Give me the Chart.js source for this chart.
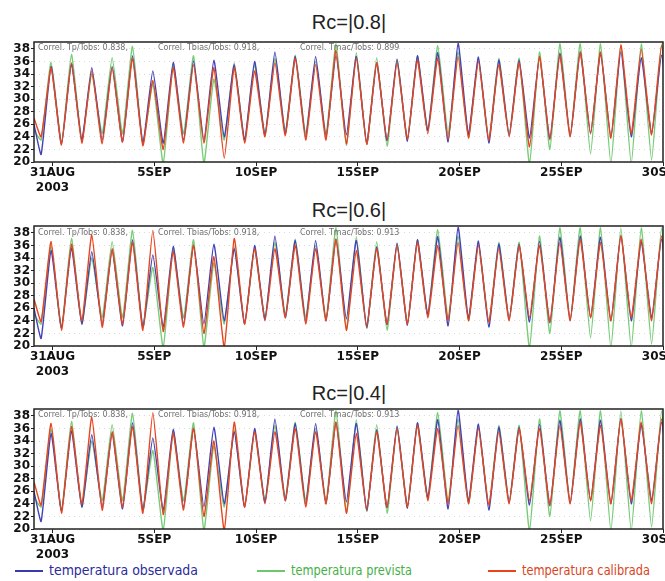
<!DOCTYPE html>
<html>
<head>
<meta charset="utf-8">
<script src="https://cdn.jsdelivr.net/npm/chart.js@4.4.0/dist/chart.umd.min.js"></script>
<style>
  body { margin: 0; width: 665px; height: 581px; overflow: hidden; background: #fff; position: relative; font-family: 'Liberation Sans', Arial, sans-serif; }
  canvas { position: absolute; left: 0; }
  .title { position: absolute; left: 249px; width: 200px; text-align: center; font-size: 20px; line-height: 24px; color: #222; }
  .correl { position: absolute; font-family: 'DejaVu Sans', sans-serif; font-size: 8px; line-height: 10px; color: #707070; white-space: pre; }
  .leg { position: absolute; top: 561px; font-family: 'DejaVu Sans', sans-serif; font-size: 14px; line-height: 18px; white-space: nowrap; }
  .leg i { display: inline-block; width: 28px; height: 1.6px; vertical-align: middle; margin-right: 6px; }
  .leg span { display: inline-block; transform-origin: 0 50%; }
</style>
</head>
<body>
<div class="title" style="top:10px">Rc=|0.8|</div>
<div class="title" style="top:198px">Rc=|0.6|</div>
<div class="title" style="top:381px">Rc=|0.4|</div>

<canvas id="c1" width="700" height="158" style="top:34px"></canvas>
<canvas id="c2" width="700" height="158" style="top:218px"></canvas>
<canvas id="c3" width="700" height="158" style="top:401px"></canvas>

<div class="correl" style="top:43px;left:38px">Correl. Tp/Tobs: 0.838,</div>
<div class="correl" style="top:43px;left:158px">Correl. Tbias/Tobs: 0.918,</div>
<div class="correl" style="top:43px;left:300px">Correl. Tmac/Tobs: 0.899</div>
<div class="correl" style="top:228px;left:38px">Correl. Tp/Tobs: 0.838,</div>
<div class="correl" style="top:228px;left:158px">Correl. Tbias/Tobs: 0.918,</div>
<div class="correl" style="top:228px;left:300px">Correl. Tmac/Tobs: 0.913</div>
<div class="correl" style="top:410px;left:38px">Correl. Tp/Tobs: 0.838,</div>
<div class="correl" style="top:410px;left:158px">Correl. Tbias/Tobs: 0.918,</div>
<div class="correl" style="top:410px;left:300px">Correl. Tmac/Tobs: 0.913</div>

<div class="leg" style="left:15px;color:#2b2b9c"><i style="background:#3a3ab0"></i><span data-w="149">temperatura observada</span></div>
<div class="leg" style="left:257px;color:#45b045"><i style="background:#6cc86c"></i><span data-w="121">temperatura prevista</span></div>
<div class="leg" style="left:488px;color:#d8441c"><i style="background:#e8451e"></i><span data-w="128">temperatura calibrada</span></div>

<script>
// days counted from 31AUG 00Z; first day in the arrays is 30AUG
const firstDay = -1;
const xStart = -0.91;
const xEnd = 30;
const minTime = 0.44;   // daily minimum ~10Z
const maxTime = 0.93;   // daily maximum ~22Z

const xTickDays = [0, 5, 10, 15, 20, 25, 30];
const xTickLabels = [['31AUG', '2003'], '5SEP', '10SEP', '15SEP', '20SEP', '25SEP', '30SEP'];
const yTicks = [20, 22, 24, 26, 28, 30, 32, 34, 36, 38];

// temperatura observada (same in all panels)
const obsLead = 26;
const obsMin = [21.2, 22.8, 23.5, 23.5, 23.2, 23.0, 23.0, 23.5, 23.5, 24.0, 23.5, 24.2, 24.5, 24.0, 24.0, 24.3,
                23.0, 23.4, 23.3, 25.0, 23.2, 24.4, 23.0, 24.2, 23.8, 23.7, 24.1, 24.5, 24.0, 24.0, 24.5, 24.5];
const obsMax = [35.2, 35.6, 35.0, 35.2, 36.9, 34.5, 35.9, 36.1, 36.2, 35.5, 36.0, 37.5, 36.8, 36.8, 37.0, 36.8,
                35.8, 36.4, 36.9, 37.4, 38.9, 36.7, 36.2, 36.2, 36.7, 37.3, 37.5, 37.3, 37.6, 36.6, 37.0, 36.5];

// temperatura prevista (same in all panels)
const prevLead = 25;
const prevMin = [23.5, 23.0, 23.5, 24.5, 24.5, 23.0, 19.8, 24.5, 19.8, 23.5, 23.5, 24.5, 25.0, 24.5, 24.5, 22.7,
                 22.8, 22.5, 23.7, 25.0, 24.5, 24.0, 23.8, 24.5, 19.7, 22.0, 24.2, 21.3, 19.7, 19.7, 20.3, 20.5];
const prevMax = [35.9, 37.1, 34.0, 36.6, 38.4, 32.5, 35.5, 36.9, 33.2, 35.8, 35.5, 36.5, 37.0, 36.0, 38.8, 37.4,
                 36.6, 36.2, 36.8, 38.5, 37.5, 36.5, 36.5, 36.5, 37.5, 38.8, 38.8, 38.8, 38.8, 38.8, 38.8, 38.5];

// temperatura calibrada, one per panel
const cal1Lead = 27;
const cal1Min = [24.0, 22.7, 23.0, 22.9, 23.2, 22.6, 22.0, 23.0, 23.0, 20.6, 23.0, 24.0, 24.2, 23.5, 23.5, 22.9,
                 22.8, 23.5, 23.6, 24.5, 23.5, 23.8, 23.5, 24.0, 22.4, 23.5, 24.0, 24.5, 23.8, 24.5, 24.3, 24.5];
const cal1Max = [35.0, 35.8, 34.5, 35.0, 36.5, 33.0, 35.0, 35.5, 35.0, 35.0, 34.5, 35.8, 36.5, 35.5, 37.8, 36.6,
                 35.8, 35.8, 36.2, 36.5, 36.8, 36.0, 35.5, 35.8, 36.8, 37.0, 37.5, 37.5, 38.6, 38.0, 38.5, 38.0];

const cal2Lead = 27.5;
const cal2Min = [23.9, 22.5, 24.0, 23.0, 23.5, 22.5, 22.3, 23.0, 22.0, 19.8, 23.5, 24.0, 24.5, 23.5, 24.0, 22.5,
                 23.0, 23.5, 23.5, 24.5, 24.0, 24.0, 23.8, 24.0, 24.5, 23.8, 24.0, 24.5, 24.0, 24.5, 24.0, 24.0];
const cal2Max = [36.6, 36.2, 37.7, 35.5, 36.5, 38.4, 35.0, 36.0, 34.2, 37.1, 35.5, 35.5, 36.0, 35.5, 37.0, 35.2,
                 35.5, 36.0, 36.5, 36.0, 36.5, 36.0, 35.5, 36.0, 36.0, 36.5, 37.0, 36.5, 37.5, 37.0, 37.5, 37.0];

const cal3Lead = 27.5;
const cal3Min = [23.8, 22.5, 24.0, 23.0, 23.5, 22.5, 22.3, 23.0, 22.0, 19.8, 23.5, 24.0, 24.5, 23.5, 24.0, 22.5,
                 23.0, 23.5, 23.5, 24.5, 24.0, 24.0, 23.8, 24.0, 24.5, 23.8, 24.0, 24.5, 24.0, 24.5, 24.0, 24.0];
const cal3Max = [36.8, 36.3, 37.8, 35.5, 36.3, 38.5, 35.2, 36.0, 34.0, 37.0, 35.5, 35.5, 36.0, 35.5, 37.0, 35.2,
                 35.5, 36.0, 36.5, 36.0, 36.5, 36.0, 35.5, 36.0, 36.0, 36.5, 37.0, 36.5, 37.5, 37.0, 37.5, 37.0];

const blue = '#4343b6';
const green = '#78cc78';
const red = '#e8451e';

const xFont = { family: "'DejaVu Sans', sans-serif", size: 12, weight: 'bold' };
const yFont = { family: "'DejaVu Sans', sans-serif", size: 12, weight: 'bold', lineHeight: 1 };

// squeeze legend texts to the widths seen in the original
document.querySelectorAll('.leg span').forEach(el => {
    const w = el.getBoundingClientRect().width;
    el.style.transform = 'scaleX(' + (Number(el.dataset.w) / w) + ')';
});

function buildPoints(lead, mins, maxs) {
    const pts = [{ x: xStart, y: lead }];
    mins.forEach((v, i) => {
        const d = firstDay + i;
        pts.push({ x: d + minTime, y: v });
        pts.push({ x: d + maxTime, y: maxs[i] });
    });
    return pts;
}

// box round the plot area, like the original frame
const frame = {
    id: 'frame',
    afterDraw(chart) {
        const a = chart.chartArea, ctx = chart.ctx;
        ctx.save();
        ctx.strokeStyle = '#222';
        ctx.lineWidth = 1.5;
        ctx.strokeRect(a.left, a.top, a.right - a.left, a.bottom - a.top);
        ctx.restore();
    }
};

function makePanel(id, calLead, calMin, calMax) {
    const ctx = document.getElementById(id).getContext('2d');
    return new Chart(ctx, {
        type: 'line',
        data: {
            datasets: [
                { label: 'temperatura calibrada', data: buildPoints(calLead, calMin, calMax), borderColor: red, order: 0 },
                { label: 'temperatura observada', data: buildPoints(obsLead, obsMin, obsMax), borderColor: blue, order: 1 },
                { label: 'temperatura prevista', data: buildPoints(prevLead, prevMin, prevMax), borderColor: green, order: 2 }
            ]
        },
        options: {
            animation: false,
            responsive: false,
            layout: { padding: { top: 8, left: 0, right: 37, bottom: 0 } },
            elements: { point: { radius: 0 }, line: { borderWidth: 1.4, tension: 0.15 } },
            plugins: { legend: { display: false }, tooltip: { enabled: false } },
            scales: {
                x: {
                    type: 'linear', min: xStart, max: xEnd,
                    afterBuildTicks: s => { s.ticks = xTickDays.map(v => ({ value: v })); },
                    afterFit: s => { s.height = 30; },
                    ticks: { callback: (v, i) => xTickLabels[i], autoSkip: false, maxRotation: 0, font: xFont, color: '#111', padding: 0 },
                    grid: { drawOnChartArea: false, tickLength: 4, tickColor: '#222' },
                    border: { display: false }
                },
                y: {
                    min: 20, max: 39.1,
                    afterBuildTicks: s => { s.ticks = yTicks.map(v => ({ value: v })); },
                    afterFit: s => { s.width = 34; },
                    ticks: { font: yFont, color: '#111', padding: 1, autoSkip: false },
                    grid: { color: 'rgba(0,0,0,0.15)', tickLength: 3, tickColor: '#222', tickBorderDash: [] },
                    border: { display: false, dash: [1, 4] }
                }
            }
        },
        plugins: [frame]
    });
}

makePanel('c1', cal1Lead, cal1Min, cal1Max);
makePanel('c2', cal2Lead, cal2Min, cal2Max);
makePanel('c3', cal3Lead, cal3Min, cal3Max);
</script>
</body>
</html>
